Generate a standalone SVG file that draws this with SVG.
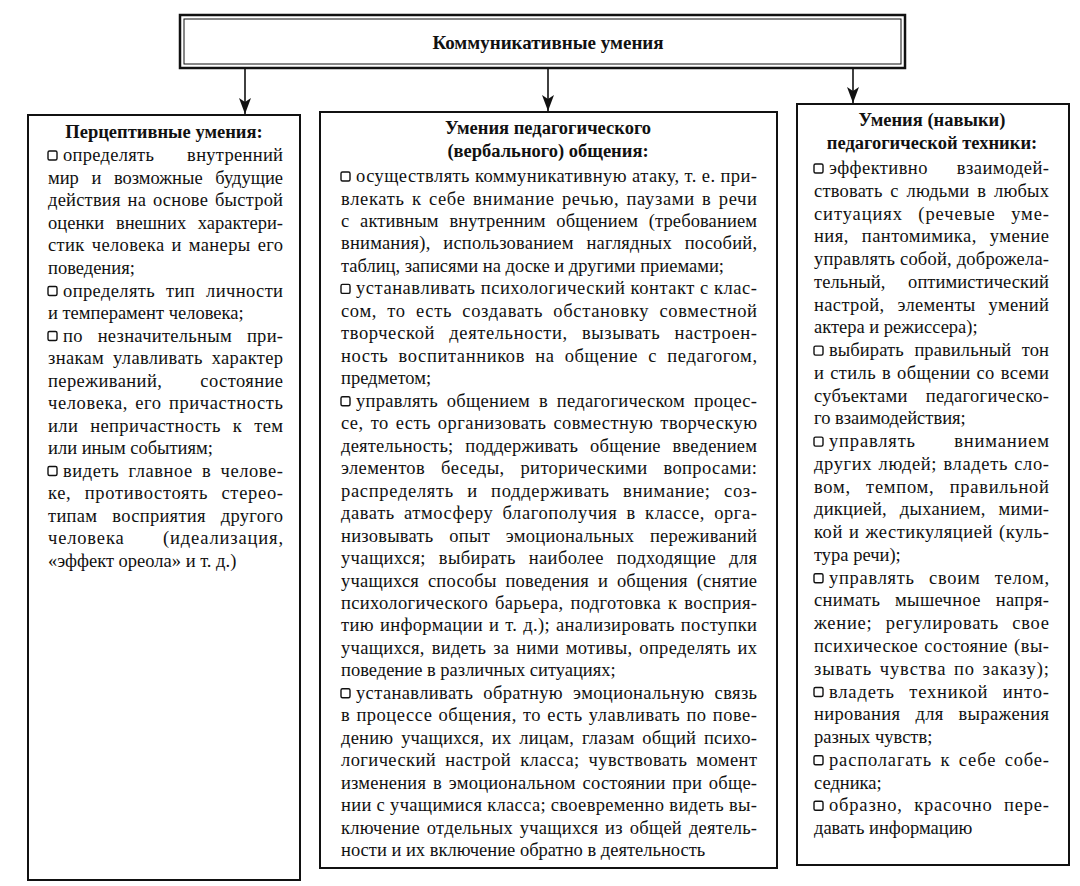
<svg xmlns="http://www.w3.org/2000/svg" width="1080" height="886" viewBox="0 0 1080 886">
<style>
.t{font-family:"Liberation Serif","DejaVu Serif",serif;font-size:18.5px;fill:#111}
.h{font-weight:bold;text-anchor:middle}
.box{fill:#fff;stroke:#111;stroke-width:2}
.b{fill:none;stroke:#111;stroke-width:1.4}
.c{stroke:#111;stroke-width:1.6;fill:none}
</style>
<defs>
<marker id="ah" markerWidth="16" markerHeight="12" refX="16" refY="6" orient="auto" markerUnits="userSpaceOnUse" viewBox="0 0 16 12">
<path d="M0,0 L16,6 L0,12 L4,6 Z" fill="#111"/>
</marker>
</defs>
<rect width="1080" height="886" fill="#fff"/>
<g id="top">
<rect x="180" y="15" width="725" height="53" fill="#fff" stroke="#111" stroke-width="2.5"/>
<rect x="184" y="19" width="717" height="45" fill="none" stroke="#111" stroke-width="1"/>
<text class="t h" x="548" y="49" style="font-size:19px">Коммуникативные умения</text>
</g>
<g id="connectors">
<line class="c" x1="245" y1="68" x2="245" y2="114" marker-end="url(#ah)"/>
<line class="c" x1="548" y1="68" x2="548" y2="111" marker-end="url(#ah)"/>
<line class="c" x1="853" y1="68" x2="853" y2="103" marker-end="url(#ah)"/>
</g>
<g id="left">
<rect class="box" x="28" y="115" width="272" height="765"/>
<text class="t h" x="164" y="138">Перцептивные умения:</text>
<rect class="b" x="48" y="151" width="9" height="9" rx="1.5"/>
<text class="t" x="63" y="161" textLength="220" lengthAdjust="spacing" style="word-spacing:28px">определять внутренний</text>
<text class="t" x="48" y="183.5" textLength="235" lengthAdjust="spacing" style="word-spacing:8px">мир и возможные будущие</text>
<text class="t" x="48" y="206" textLength="235" lengthAdjust="spacing" style="word-spacing:2px">действия на основе быстрой</text>
<text class="t" x="48" y="228.5" textLength="235" lengthAdjust="spacing" style="word-spacing:7px">оценки внешних характери-</text>
<text class="t" x="48" y="251" textLength="235" lengthAdjust="spacing" style="word-spacing:2px">стик человека и манеры его</text>
<text class="t" x="48" y="273.5">поведения;</text>
<rect class="b" x="48" y="286.5" width="9" height="9" rx="1.5"/>
<text class="t" x="63" y="296.5" textLength="220" lengthAdjust="spacing" style="word-spacing:6px">определять тип личности</text>
<text class="t" x="48" y="319">и темперамент человека;</text>
<rect class="b" x="48" y="331.5" width="9" height="9" rx="1.5"/>
<text class="t" x="63" y="341.5" textLength="220" lengthAdjust="spacing" style="word-spacing:10px">по незначительным при-</text>
<text class="t" x="48" y="364" textLength="235" lengthAdjust="spacing" style="word-spacing:4px">знакам улавливать характер</text>
<text class="t" x="48" y="386.5" textLength="235" lengthAdjust="spacing" style="word-spacing:33px">переживаний, состояние</text>
<text class="t" x="48" y="409" textLength="235" lengthAdjust="spacing" style="word-spacing:2px">человека, его причастность</text>
<text class="t" x="48" y="431.5" textLength="235" lengthAdjust="spacing" style="word-spacing:7px">или непричастность к тем</text>
<text class="t" x="48" y="454">или иным событиям;</text>
<rect class="b" x="48" y="466.5" width="9" height="9" rx="1.5"/>
<text class="t" x="63" y="476.5" textLength="220" lengthAdjust="spacing" style="word-spacing:4px">видеть главное в челове-</text>
<text class="t" x="48" y="499" textLength="235" lengthAdjust="spacing" style="word-spacing:8px">ке, противостоять стерео-</text>
<text class="t" x="48" y="521.5" textLength="235" lengthAdjust="spacing" style="word-spacing:10px">типам восприятия другого</text>
<text class="t" x="48" y="544" textLength="235" lengthAdjust="spacing" style="word-spacing:33px">человека (идеализация,</text>
<text class="t" x="48" y="567">«эффект ореола» и т. д.)</text>
</g>
<g id="middle">
<rect class="box" x="320" y="112" width="457" height="756"/>
<text class="t h" x="548" y="134">Умения педагогического</text>
<text class="t h" x="548" y="157">(вербального) общения:</text>
<rect class="b" x="341" y="172" width="9" height="9" rx="1.5"/>
<text class="t" x="356" y="182" textLength="401" lengthAdjust="spacing">осуществлять коммуникативную атаку, т. е. при-</text>
<text class="t" x="341" y="204.5" textLength="416" lengthAdjust="spacing" style="word-spacing:2px">влекать к себе внимание речью, паузами в речи</text>
<text class="t" x="341" y="226.9" textLength="416" lengthAdjust="spacing" style="word-spacing:6px">с активным внутренним общением (требованием</text>
<text class="t" x="341" y="249.4" textLength="416" lengthAdjust="spacing" style="word-spacing:8px">внимания), использованием наглядных пособий,</text>
<text class="t" x="341" y="271.9">таблиц, записями на доске и другими приемами;</text>
<rect class="b" x="341" y="284.4" width="9" height="9" rx="1.5"/>
<text class="t" x="356" y="294.4" textLength="401" lengthAdjust="spacing">устанавливать психологический контакт с клас-</text>
<text class="t" x="341" y="316.8" textLength="416" lengthAdjust="spacing" style="word-spacing:5px">сом, то есть создавать обстановку совместной</text>
<text class="t" x="341" y="339.3" textLength="416" lengthAdjust="spacing" style="word-spacing:9px">творческой деятельности, вызывать настроен-</text>
<text class="t" x="341" y="361.8" textLength="416" lengthAdjust="spacing" style="word-spacing:5px">ность воспитанников на общение с педагогом,</text>
<text class="t" x="341" y="384.2">предметом;</text>
<rect class="b" x="341" y="396.7" width="9" height="9" rx="1.5"/>
<text class="t" x="356" y="406.7" textLength="401" lengthAdjust="spacing" style="word-spacing:4px">управлять общением в педагогическом процес-</text>
<text class="t" x="341" y="429.2" textLength="416" lengthAdjust="spacing" style="word-spacing:2px">се, то есть организовать совместную творческую</text>
<text class="t" x="341" y="451.6" textLength="416" lengthAdjust="spacing" style="word-spacing:7px">деятельность; поддерживать общение введением</text>
<text class="t" x="341" y="474.1" textLength="416" lengthAdjust="spacing" style="word-spacing:11px">элементов беседы, риторическими вопросами:</text>
<text class="t" x="341" y="496.6" textLength="416" lengthAdjust="spacing" style="word-spacing:8px">распределять и поддерживать внимание; соз-</text>
<text class="t" x="341" y="519.1" textLength="416" lengthAdjust="spacing" style="word-spacing:4px">давать атмосферу благополучия в классе, орга-</text>
<text class="t" x="341" y="541.5" textLength="416" lengthAdjust="spacing" style="word-spacing:11px">низовывать опыт эмоциональных переживаний</text>
<text class="t" x="341" y="564" textLength="416" lengthAdjust="spacing" style="word-spacing:8px">учащихся; выбирать наиболее подходящие для</text>
<text class="t" x="341" y="586.5" textLength="416" lengthAdjust="spacing" style="word-spacing:4px">учащихся способы поведения и общения (снятие</text>
<text class="t" x="341" y="608.9" textLength="416" lengthAdjust="spacing" style="word-spacing:2px">психологического барьера, подготовка к восприя-</text>
<text class="t" x="341" y="631.4" textLength="416" lengthAdjust="spacing" style="word-spacing:1px">тию информации и т. д.); анализировать поступки</text>
<text class="t" x="341" y="653.9" textLength="416" lengthAdjust="spacing" style="word-spacing:2px">учащихся, видеть за ними мотивы, определять их</text>
<text class="t" x="341" y="676.3">поведение в различных ситуациях;</text>
<rect class="b" x="341" y="688.8" width="9" height="9" rx="1.5"/>
<text class="t" x="356" y="698.8" textLength="401" lengthAdjust="spacing" style="word-spacing:5px">устанавливать обратную эмоциональную связь</text>
<text class="t" x="341" y="721.3" textLength="416" lengthAdjust="spacing" style="word-spacing:1px">в процессе общения, то есть улавливать по пове-</text>
<text class="t" x="341" y="743.8" textLength="416" lengthAdjust="spacing" style="word-spacing:3px">дению учащихся, их лицам, глазам общий психо-</text>
<text class="t" x="341" y="766.2" textLength="416" lengthAdjust="spacing" style="word-spacing:4px">логический настрой класса; чувствовать момент</text>
<text class="t" x="341" y="788.7" textLength="416" lengthAdjust="spacing" style="word-spacing:2px">изменения в эмоциональном состоянии при обще-</text>
<text class="t" x="341" y="811.2" textLength="416" lengthAdjust="spacing">нии с учащимися класса; своевременно видеть вы-</text>
<text class="t" x="341" y="833.6" textLength="416" lengthAdjust="spacing" style="word-spacing:2px">ключение отдельных учащихся из общей деятель-</text>
<text class="t" x="341" y="856.1">ности и их включение обратно в деятельность</text>
</g>
<g id="right">
<rect class="box" x="797" y="104" width="272" height="761"/>
<text class="t h" x="932" y="126">Умения (навыки)</text>
<text class="t h" x="932" y="149">педагогической техники:</text>
<rect class="b" x="814" y="164" width="9" height="9" rx="1.5"/>
<text class="t" x="829" y="174" textLength="220" lengthAdjust="spacing" style="word-spacing:24px">эффективно взаимодей-</text>
<text class="t" x="814" y="196.8" textLength="235" lengthAdjust="spacing" style="word-spacing:3px">ствовать с людьми в любых</text>
<text class="t" x="814" y="219.5" textLength="235" lengthAdjust="spacing" style="word-spacing:10px">ситуациях (речевые уме-</text>
<text class="t" x="814" y="242.3" textLength="235" lengthAdjust="spacing" style="word-spacing:8px">ния, пантомимика, умение</text>
<text class="t" x="814" y="265" textLength="235" lengthAdjust="spacing">управлять собой, доброжела-</text>
<text class="t" x="814" y="287.8" textLength="235" lengthAdjust="spacing" style="word-spacing:18px">тельный, оптимистический</text>
<text class="t" x="814" y="310.6" textLength="235" lengthAdjust="spacing" style="word-spacing:8px">настрой, элементы умений</text>
<text class="t" x="814" y="333.3">актера и режиссера);</text>
<rect class="b" x="814" y="346.1" width="9" height="9" rx="1.5"/>
<text class="t" x="829" y="356.1" textLength="220" lengthAdjust="spacing" style="word-spacing:6px">выбирать правильный тон</text>
<text class="t" x="814" y="378.8" textLength="235" lengthAdjust="spacing" style="word-spacing:1px">и стиль в общении со всеми</text>
<text class="t" x="814" y="401.6" textLength="235" lengthAdjust="spacing" style="word-spacing:13px">субъектами педагогическо-</text>
<text class="t" x="814" y="424.4">го взаимодействия;</text>
<rect class="b" x="814" y="437.1" width="9" height="9" rx="1.5"/>
<text class="t" x="829" y="447.1" textLength="220" lengthAdjust="spacing" style="word-spacing:33px">управлять вниманием</text>
<text class="t" x="814" y="469.9" textLength="235" lengthAdjust="spacing" style="word-spacing:1px">других людей; владеть сло-</text>
<text class="t" x="814" y="492.6" textLength="235" lengthAdjust="spacing" style="word-spacing:10px">вом, темпом, правильной</text>
<text class="t" x="814" y="515.4" textLength="235" lengthAdjust="spacing" style="word-spacing:8px">дикцией, дыханием, мими-</text>
<text class="t" x="814" y="538.2" textLength="235" lengthAdjust="spacing" style="word-spacing:1px">кой и жестикуляцией (куль-</text>
<text class="t" x="814" y="560.9">тура речи);</text>
<rect class="b" x="814" y="573.7" width="9" height="9" rx="1.5"/>
<text class="t" x="829" y="583.7" textLength="220" lengthAdjust="spacing" style="word-spacing:9px">управлять своим телом,</text>
<text class="t" x="814" y="606.4" textLength="235" lengthAdjust="spacing" style="word-spacing:10px">снимать мышечное напря-</text>
<text class="t" x="814" y="629.2" textLength="235" lengthAdjust="spacing" style="word-spacing:8px">жение; регулировать свое</text>
<text class="t" x="814" y="652" textLength="235" lengthAdjust="spacing" style="word-spacing:1px">психическое состояние (вы-</text>
<text class="t" x="814" y="674.7" textLength="235" lengthAdjust="spacing" style="word-spacing:2px">зывать чувства по заказу);</text>
<rect class="b" x="814" y="687.5" width="9" height="9" rx="1.5"/>
<text class="t" x="829" y="697.5" textLength="220" lengthAdjust="spacing" style="word-spacing:9px">владеть техникой инто-</text>
<text class="t" x="814" y="720.2" textLength="235" lengthAdjust="spacing" style="word-spacing:10px">нирования для выражения</text>
<text class="t" x="814" y="743">разных чувств;</text>
<rect class="b" x="814" y="755.8" width="9" height="9" rx="1.5"/>
<text class="t" x="829" y="765.8" textLength="220" lengthAdjust="spacing" style="word-spacing:3px">располагать к себе собе-</text>
<text class="t" x="814" y="788.5">седника;</text>
<rect class="b" x="814" y="801.3" width="9" height="9" rx="1.5"/>
<text class="t" x="829" y="811.3" textLength="220" lengthAdjust="spacing" style="word-spacing:6px">образно, красочно пере-</text>
<text class="t" x="814" y="834">давать информацию</text>
</g>
</svg>
